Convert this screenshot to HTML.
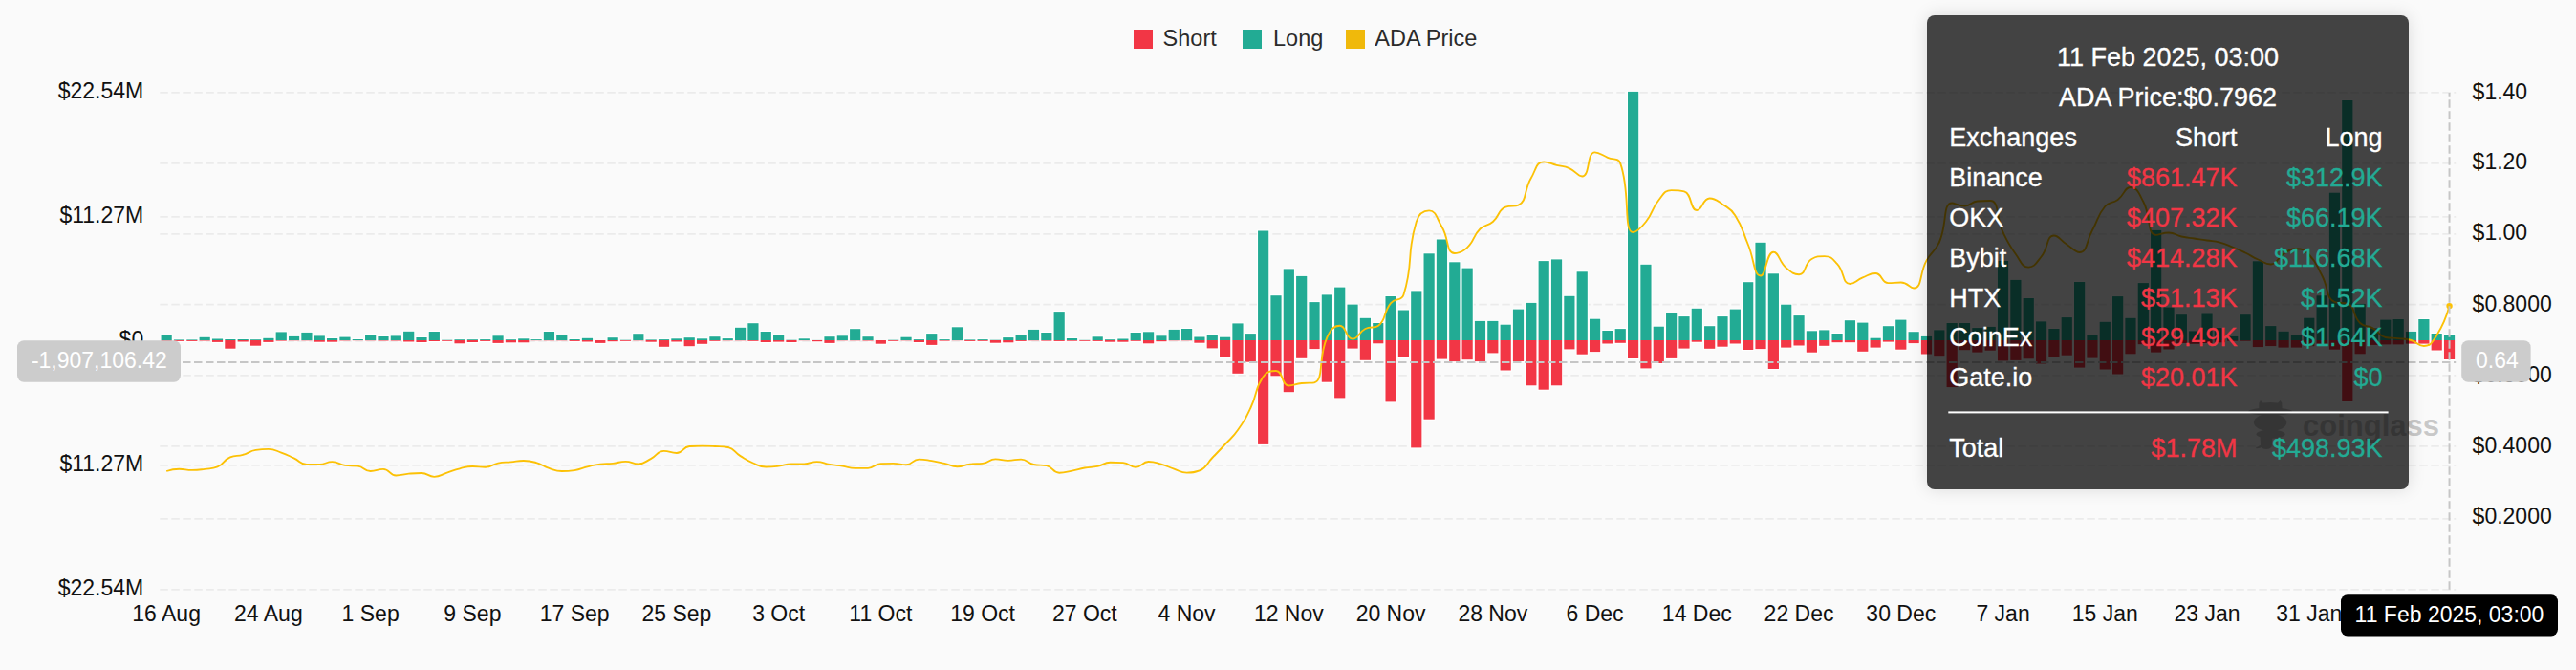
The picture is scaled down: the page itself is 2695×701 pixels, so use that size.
<!DOCTYPE html><html><head><meta charset="utf-8"><style>
html,body{margin:0;padding:0;background:#fafafa;width:2695px;height:701px;overflow:hidden;}
svg{position:absolute;left:0;top:0;}
text{font-family:"Liberation Sans", sans-serif;}
#tt{position:absolute;left:2016px;top:16px;width:504px;height:496px;border-radius:8px;background:rgba(0,0,0,0.735);box-shadow:0 0 18px rgba(0,0,0,0.13);}
</style></head><body>
<svg width="2695" height="701" viewBox="0 0 2695 701">
<g stroke="#ebebeb" stroke-width="1.8" stroke-dasharray="8.5 3.5" fill="none">
<line x1="167.30" y1="96.90" x2="2569.22" y2="96.90"/>
<line x1="167.30" y1="170.85" x2="2569.22" y2="170.85"/>
<line x1="167.30" y1="226.85" x2="2569.22" y2="226.85"/>
<line x1="167.30" y1="244.80" x2="2569.22" y2="244.80"/>
<line x1="167.30" y1="318.65" x2="2569.22" y2="318.65"/>
<line x1="167.30" y1="356.90" x2="2569.22" y2="356.90"/>
<line x1="167.30" y1="392.90" x2="2569.22" y2="392.90"/>
<line x1="167.30" y1="466.80" x2="2569.22" y2="466.80"/>
<line x1="167.30" y1="486.95" x2="2569.22" y2="486.95"/>
<line x1="167.30" y1="542.85" x2="2569.22" y2="542.85"/>
<line x1="167.30" y1="616.80" x2="2569.22" y2="616.80"/>
</g>
<g font-size="23" fill="#111" text-anchor="end">
<text x="150.2" y="103.30">$22.54M</text>
<text x="150.2" y="233.25">$11.27M</text>
<text x="150.2" y="363.30">$0</text>
<text x="150.2" y="493.35">$11.27M</text>
<text x="150.2" y="623.20">$22.54M</text>
</g>
<g font-size="23" fill="#111">
<text x="2586.6" y="103.60">$1.40</text>
<text x="2586.6" y="176.60">$1.20</text>
<text x="2586.6" y="250.50">$1.00</text>
<text x="2586.6" y="325.90">$0.8000</text>
<text x="2586.6" y="400.00">$0.6000</text>
<text x="2586.6" y="473.80">$0.4000</text>
<text x="2586.6" y="548.20">$0.2000</text>
</g>
<g font-size="23" fill="#111" text-anchor="middle">
<text x="174.15" y="650.3">16 Aug</text>
<text x="280.90" y="650.3">24 Aug</text>
<text x="387.64" y="650.3">1 Sep</text>
<text x="494.38" y="650.3">9 Sep</text>
<text x="601.13" y="650.3">17 Sep</text>
<text x="707.87" y="650.3">25 Sep</text>
<text x="814.62" y="650.3">3 Oct</text>
<text x="921.36" y="650.3">11 Oct</text>
<text x="1028.10" y="650.3">19 Oct</text>
<text x="1134.85" y="650.3">27 Oct</text>
<text x="1241.59" y="650.3">4 Nov</text>
<text x="1348.34" y="650.3">12 Nov</text>
<text x="1455.08" y="650.3">20 Nov</text>
<text x="1561.82" y="650.3">28 Nov</text>
<text x="1668.57" y="650.3">6 Dec</text>
<text x="1775.31" y="650.3">14 Dec</text>
<text x="1882.06" y="650.3">22 Dec</text>
<text x="1988.80" y="650.3">30 Dec</text>
<text x="2095.54" y="650.3">7 Jan</text>
<text x="2202.29" y="650.3">15 Jan</text>
<text x="2309.03" y="650.3">23 Jan</text>
<text x="2415.78" y="650.3">31 Jan</text>
</g>
<g fill="#ffffff">
<rect x="167.55" y="349.70" width="13.20" height="8.30"/>
<rect x="180.89" y="354.40" width="13.20" height="3.50"/>
<rect x="194.24" y="354.40" width="13.20" height="3.50"/>
<rect x="207.58" y="351.80" width="13.20" height="4.70"/>
<rect x="220.92" y="353.50" width="13.20" height="5.40"/>
<rect x="234.27" y="354.00" width="13.20" height="11.70"/>
<rect x="247.61" y="354.00" width="13.20" height="4.50"/>
<rect x="260.95" y="354.20" width="13.20" height="8.50"/>
<rect x="274.30" y="352.80" width="13.20" height="6.10"/>
<rect x="287.64" y="346.40" width="13.20" height="11.20"/>
<rect x="300.98" y="350.90" width="13.20" height="5.40"/>
<rect x="314.32" y="346.90" width="13.20" height="9.40"/>
<rect x="327.67" y="350.40" width="13.20" height="8.30"/>
<rect x="341.01" y="353.00" width="13.20" height="5.70"/>
<rect x="354.35" y="351.60" width="13.20" height="4.80"/>
<rect x="367.70" y="354.00" width="13.20" height="2.20"/>
<rect x="381.04" y="349.00" width="13.20" height="7.30"/>
<rect x="394.38" y="351.00" width="13.20" height="5.50"/>
<rect x="407.73" y="350.40" width="13.20" height="6.10"/>
<rect x="421.07" y="345.80" width="13.20" height="12.70"/>
<rect x="434.41" y="352.00" width="13.20" height="7.00"/>
<rect x="447.75" y="346.00" width="13.20" height="12.00"/>
<rect x="461.10" y="355.70" width="13.20" height="2.10"/>
<rect x="474.44" y="354.20" width="13.20" height="6.10"/>
<rect x="487.78" y="354.20" width="13.20" height="4.80"/>
<rect x="501.13" y="354.10" width="13.20" height="3.80"/>
<rect x="514.47" y="350.30" width="13.20" height="9.60"/>
<rect x="527.81" y="354.20" width="13.20" height="5.10"/>
<rect x="541.16" y="353.30" width="13.20" height="6.00"/>
<rect x="554.50" y="354.10" width="13.20" height="2.10"/>
<rect x="567.84" y="346.00" width="13.20" height="10.30"/>
<rect x="581.18" y="350.00" width="13.20" height="6.30"/>
<rect x="594.53" y="354.00" width="13.20" height="3.90"/>
<rect x="607.87" y="352.80" width="13.20" height="5.70"/>
<rect x="621.21" y="356.00" width="13.20" height="3.90"/>
<rect x="634.56" y="352.20" width="13.20" height="6.00"/>
<rect x="647.90" y="355.70" width="13.20" height="2.10"/>
<rect x="661.24" y="348.20" width="13.20" height="8.10"/>
<rect x="674.59" y="354.40" width="13.20" height="4.30"/>
<rect x="687.93" y="354.10" width="13.20" height="9.70"/>
<rect x="701.27" y="353.30" width="13.20" height="5.20"/>
<rect x="714.61" y="352.20" width="13.20" height="11.00"/>
<rect x="727.96" y="353.30" width="13.20" height="7.50"/>
<rect x="741.30" y="351.20" width="13.20" height="6.60"/>
<rect x="754.64" y="353.10" width="13.20" height="3.20"/>
<rect x="767.99" y="341.80" width="13.20" height="14.50"/>
<rect x="781.33" y="337.20" width="13.20" height="20.60"/>
<rect x="794.67" y="346.00" width="13.20" height="13.00"/>
<rect x="808.02" y="349.20" width="13.20" height="9.40"/>
<rect x="821.36" y="355.70" width="13.20" height="3.30"/>
<rect x="834.70" y="353.30" width="13.20" height="2.90"/>
<rect x="848.04" y="355.90" width="13.20" height="2.30"/>
<rect x="861.39" y="351.20" width="13.20" height="8.70"/>
<rect x="874.73" y="350.30" width="13.20" height="6.00"/>
<rect x="888.07" y="343.20" width="13.20" height="13.10"/>
<rect x="901.42" y="351.20" width="13.20" height="5.30"/>
<rect x="914.76" y="356.00" width="13.20" height="4.70"/>
<rect x="928.10" y="355.70" width="13.20" height="2.10"/>
<rect x="941.45" y="351.70" width="13.20" height="4.60"/>
<rect x="954.79" y="354.10" width="13.20" height="4.90"/>
<rect x="968.13" y="348.10" width="13.20" height="13.80"/>
<rect x="981.47" y="354.10" width="13.20" height="3.50"/>
<rect x="994.82" y="341.30" width="13.20" height="14.90"/>
<rect x="1008.16" y="354.40" width="13.20" height="3.50"/>
<rect x="1021.50" y="354.10" width="13.20" height="3.70"/>
<rect x="1034.85" y="355.70" width="13.20" height="4.00"/>
<rect x="1048.19" y="352.10" width="13.20" height="7.20"/>
<rect x="1061.53" y="350.00" width="13.20" height="7.90"/>
<rect x="1074.88" y="343.90" width="13.20" height="12.40"/>
<rect x="1088.22" y="347.00" width="13.20" height="10.60"/>
<rect x="1101.56" y="325.10" width="13.20" height="32.80"/>
<rect x="1114.90" y="353.00" width="13.20" height="4.70"/>
<rect x="1128.25" y="355.80" width="13.20" height="2.00"/>
<rect x="1141.59" y="351.30" width="13.20" height="6.60"/>
<rect x="1154.93" y="354.20" width="13.20" height="4.50"/>
<rect x="1168.28" y="353.50" width="13.20" height="5.20"/>
<rect x="1181.62" y="347.00" width="13.20" height="10.80"/>
<rect x="1194.96" y="346.30" width="13.20" height="14.00"/>
<rect x="1208.31" y="350.30" width="13.20" height="7.90"/>
<rect x="1221.65" y="343.90" width="13.20" height="12.40"/>
<rect x="1234.99" y="343.00" width="13.20" height="13.30"/>
<rect x="1248.33" y="351.50" width="13.20" height="8.20"/>
<rect x="1261.68" y="349.20" width="13.20" height="16.20"/>
<rect x="1275.02" y="351.70" width="13.20" height="23.00"/>
<rect x="1288.36" y="337.40" width="13.20" height="54.40"/>
<rect x="1301.71" y="348.10" width="13.20" height="31.60"/>
<rect x="1315.05" y="240.50" width="13.20" height="225.40"/>
<rect x="1328.39" y="308.20" width="13.20" height="86.10"/>
<rect x="1341.74" y="280.40" width="13.20" height="130.80"/>
<rect x="1355.08" y="287.90" width="13.20" height="87.90"/>
<rect x="1368.42" y="315.10" width="13.20" height="51.00"/>
<rect x="1381.76" y="307.40" width="13.20" height="93.30"/>
<rect x="1395.11" y="299.60" width="13.20" height="117.80"/>
<rect x="1408.45" y="317.60" width="13.20" height="48.00"/>
<rect x="1421.79" y="331.80" width="13.20" height="46.00"/>
<rect x="1435.14" y="337.00" width="13.20" height="23.30"/>
<rect x="1448.48" y="309.00" width="13.20" height="112.40"/>
<rect x="1461.82" y="323.50" width="13.20" height="51.40"/>
<rect x="1475.17" y="303.40" width="13.20" height="166.00"/>
<rect x="1488.51" y="264.30" width="13.20" height="175.40"/>
<rect x="1501.85" y="249.50" width="13.20" height="127.10"/>
<rect x="1515.19" y="273.30" width="13.20" height="105.80"/>
<rect x="1528.54" y="279.60" width="13.20" height="97.60"/>
<rect x="1541.88" y="334.90" width="13.20" height="44.20"/>
<rect x="1555.22" y="334.90" width="13.20" height="35.50"/>
<rect x="1568.57" y="338.70" width="13.20" height="49.80"/>
<rect x="1581.91" y="322.60" width="13.20" height="56.40"/>
<rect x="1595.25" y="315.90" width="13.20" height="88.40"/>
<rect x="1608.60" y="272.10" width="13.20" height="136.60"/>
<rect x="1621.94" y="270.40" width="13.20" height="133.90"/>
<rect x="1635.28" y="308.80" width="13.20" height="57.60"/>
<rect x="1648.62" y="283.30" width="13.20" height="88.40"/>
<rect x="1661.97" y="332.70" width="13.20" height="36.40"/>
<rect x="1675.31" y="345.00" width="13.20" height="15.50"/>
<rect x="1688.65" y="343.10" width="13.20" height="16.70"/>
<rect x="1702.00" y="94.90" width="13.20" height="281.10"/>
<rect x="1715.34" y="275.80" width="13.20" height="110.60"/>
<rect x="1728.68" y="340.70" width="13.20" height="40.30"/>
<rect x="1742.03" y="326.80" width="13.20" height="49.10"/>
<rect x="1755.37" y="330.10" width="13.20" height="35.50"/>
<rect x="1768.71" y="321.80" width="13.20" height="36.90"/>
<rect x="1782.05" y="340.20" width="13.20" height="25.60"/>
<rect x="1795.40" y="330.10" width="13.20" height="33.60"/>
<rect x="1808.74" y="322.60" width="13.20" height="37.90"/>
<rect x="1822.08" y="294.20" width="13.20" height="72.80"/>
<rect x="1835.43" y="252.80" width="13.20" height="113.30"/>
<rect x="1848.77" y="285.30" width="13.20" height="101.70"/>
<rect x="1862.11" y="317.70" width="13.20" height="46.90"/>
<rect x="1875.46" y="329.10" width="13.20" height="33.40"/>
<rect x="1888.80" y="345.30" width="13.20" height="24.40"/>
<rect x="1902.14" y="344.40" width="13.20" height="18.40"/>
<rect x="1915.48" y="348.00" width="13.20" height="11.20"/>
<rect x="1928.83" y="334.20" width="13.20" height="25.00"/>
<rect x="1942.17" y="336.60" width="13.20" height="32.20"/>
<rect x="1955.51" y="352.70" width="13.20" height="11.90"/>
<rect x="1968.86" y="340.20" width="13.20" height="18.40"/>
<rect x="1982.20" y="333.60" width="13.20" height="33.10"/>
<rect x="1995.54" y="346.20" width="13.20" height="13.90"/>
<rect x="2008.89" y="350.90" width="13.20" height="20.60"/>
<rect x="2022.23" y="344.40" width="13.20" height="28.80"/>
<rect x="2035.57" y="337.00" width="13.20" height="69.10"/>
<rect x="2048.91" y="337.00" width="13.20" height="30.20"/>
<rect x="2062.26" y="342.10" width="13.20" height="27.50"/>
<rect x="2075.60" y="340.90" width="13.20" height="26.80"/>
<rect x="2088.94" y="272.00" width="13.20" height="106.40"/>
<rect x="2102.29" y="291.90" width="13.20" height="86.00"/>
<rect x="2115.63" y="311.00" width="13.20" height="65.30"/>
<rect x="2128.97" y="335.40" width="13.20" height="46.10"/>
<rect x="2142.32" y="343.00" width="13.20" height="31.40"/>
<rect x="2155.66" y="331.10" width="13.20" height="41.60"/>
<rect x="2169.00" y="294.00" width="13.20" height="91.60"/>
<rect x="2182.34" y="349.70" width="13.20" height="25.90"/>
<rect x="2195.69" y="335.80" width="13.20" height="51.70"/>
<rect x="2209.03" y="309.10" width="13.20" height="83.40"/>
<rect x="2222.37" y="331.80" width="13.20" height="39.50"/>
<rect x="2235.72" y="295.10" width="13.20" height="66.10"/>
<rect x="2249.06" y="239.90" width="13.20" height="129.70"/>
<rect x="2262.40" y="320.60" width="13.20" height="45.90"/>
<rect x="2275.75" y="328.20" width="13.20" height="31.80"/>
<rect x="2289.09" y="345.40" width="13.20" height="15.40"/>
<rect x="2302.43" y="327.50" width="13.20" height="32.50"/>
<rect x="2315.77" y="342.10" width="13.20" height="17.20"/>
<rect x="2329.12" y="350.90" width="13.20" height="6.80"/>
<rect x="2342.46" y="328.20" width="13.20" height="29.50"/>
<rect x="2355.80" y="272.30" width="13.20" height="91.80"/>
<rect x="2369.15" y="340.10" width="13.20" height="23.00"/>
<rect x="2382.49" y="345.80" width="13.20" height="18.80"/>
<rect x="2395.83" y="350.00" width="13.20" height="14.60"/>
<rect x="2409.18" y="331.70" width="13.20" height="31.50"/>
<rect x="2422.52" y="308.30" width="13.20" height="52.30"/>
<rect x="2435.86" y="200.70" width="13.20" height="166.00"/>
<rect x="2449.20" y="104.00" width="13.20" height="317.00"/>
<rect x="2462.55" y="316.90" width="13.20" height="54.40"/>
<rect x="2475.89" y="342.40" width="13.20" height="19.50"/>
<rect x="2489.23" y="333.60" width="13.20" height="27.80"/>
<rect x="2502.58" y="333.00" width="13.20" height="28.40"/>
<rect x="2515.92" y="345.90" width="13.20" height="14.70"/>
<rect x="2529.26" y="333.00" width="13.20" height="27.60"/>
<rect x="2542.61" y="348.00" width="13.20" height="19.50"/>
<rect x="2555.95" y="349.10" width="13.20" height="27.90"/>
</g>
<g fill="#22AB94">
<rect x="168.55" y="350.70" width="11.20" height="5.30"/>
<rect x="181.89" y="355.40" width="11.20" height="0.60"/>
<rect x="195.24" y="355.40" width="11.20" height="0.60"/>
<rect x="208.58" y="352.80" width="11.20" height="3.20"/>
<rect x="221.92" y="354.50" width="11.20" height="1.50"/>
<rect x="235.27" y="355.00" width="11.20" height="1.00"/>
<rect x="248.61" y="355.00" width="11.20" height="1.00"/>
<rect x="261.95" y="355.20" width="11.20" height="0.80"/>
<rect x="275.30" y="353.80" width="11.20" height="2.20"/>
<rect x="288.64" y="347.40" width="11.20" height="8.60"/>
<rect x="301.98" y="351.90" width="11.20" height="4.10"/>
<rect x="315.32" y="347.90" width="11.20" height="8.10"/>
<rect x="328.67" y="351.40" width="11.20" height="4.60"/>
<rect x="342.01" y="354.00" width="11.20" height="2.00"/>
<rect x="355.35" y="352.60" width="11.20" height="3.40"/>
<rect x="368.70" y="355.00" width="11.20" height="1.00"/>
<rect x="382.04" y="350.00" width="11.20" height="6.00"/>
<rect x="395.38" y="352.00" width="11.20" height="4.00"/>
<rect x="408.73" y="351.40" width="11.20" height="4.60"/>
<rect x="422.07" y="346.80" width="11.20" height="9.20"/>
<rect x="435.41" y="353.00" width="11.20" height="3.00"/>
<rect x="448.75" y="347.00" width="11.20" height="9.00"/>
<rect x="462.10" y="355.70" width="11.20" height="0.30"/>
<rect x="475.44" y="355.20" width="11.20" height="0.80"/>
<rect x="488.78" y="355.20" width="11.20" height="0.80"/>
<rect x="502.13" y="355.10" width="11.20" height="0.90"/>
<rect x="515.47" y="351.30" width="11.20" height="4.70"/>
<rect x="528.81" y="355.20" width="11.20" height="0.80"/>
<rect x="542.16" y="354.30" width="11.20" height="1.70"/>
<rect x="555.50" y="355.10" width="11.20" height="0.90"/>
<rect x="568.84" y="347.00" width="11.20" height="9.00"/>
<rect x="582.18" y="351.00" width="11.20" height="5.00"/>
<rect x="595.53" y="355.00" width="11.20" height="1.00"/>
<rect x="608.87" y="353.80" width="11.20" height="2.20"/>
<rect x="635.56" y="353.20" width="11.20" height="2.80"/>
<rect x="648.90" y="355.70" width="11.20" height="0.30"/>
<rect x="662.24" y="349.20" width="11.20" height="6.80"/>
<rect x="675.59" y="355.40" width="11.20" height="0.60"/>
<rect x="688.93" y="355.10" width="11.20" height="0.90"/>
<rect x="702.27" y="354.30" width="11.20" height="1.70"/>
<rect x="715.61" y="353.20" width="11.20" height="2.80"/>
<rect x="728.96" y="354.30" width="11.20" height="1.70"/>
<rect x="742.30" y="352.20" width="11.20" height="3.80"/>
<rect x="755.64" y="354.10" width="11.20" height="1.90"/>
<rect x="768.99" y="342.80" width="11.20" height="13.20"/>
<rect x="782.33" y="338.20" width="11.20" height="17.80"/>
<rect x="795.67" y="347.00" width="11.20" height="9.00"/>
<rect x="809.02" y="350.20" width="11.20" height="5.80"/>
<rect x="822.36" y="355.70" width="11.20" height="0.30"/>
<rect x="835.70" y="354.30" width="11.20" height="1.70"/>
<rect x="849.04" y="355.90" width="11.20" height="0.10"/>
<rect x="862.39" y="352.20" width="11.20" height="3.80"/>
<rect x="875.73" y="351.30" width="11.20" height="4.70"/>
<rect x="889.07" y="344.20" width="11.20" height="11.80"/>
<rect x="902.42" y="352.20" width="11.20" height="3.80"/>
<rect x="929.10" y="355.70" width="11.20" height="0.30"/>
<rect x="942.45" y="352.70" width="11.20" height="3.30"/>
<rect x="955.79" y="355.10" width="11.20" height="0.90"/>
<rect x="969.13" y="349.10" width="11.20" height="6.90"/>
<rect x="982.47" y="355.10" width="11.20" height="0.90"/>
<rect x="995.82" y="342.30" width="11.20" height="13.70"/>
<rect x="1009.16" y="355.40" width="11.20" height="0.60"/>
<rect x="1022.50" y="355.10" width="11.20" height="0.90"/>
<rect x="1035.85" y="355.70" width="11.20" height="0.30"/>
<rect x="1049.19" y="353.10" width="11.20" height="2.90"/>
<rect x="1062.53" y="351.00" width="11.20" height="5.00"/>
<rect x="1075.88" y="344.90" width="11.20" height="11.10"/>
<rect x="1089.22" y="348.00" width="11.20" height="8.00"/>
<rect x="1102.56" y="326.10" width="11.20" height="29.90"/>
<rect x="1115.90" y="354.00" width="11.20" height="2.00"/>
<rect x="1129.25" y="355.80" width="11.20" height="0.20"/>
<rect x="1142.59" y="352.30" width="11.20" height="3.70"/>
<rect x="1155.93" y="355.20" width="11.20" height="0.80"/>
<rect x="1169.28" y="354.50" width="11.20" height="1.50"/>
<rect x="1182.62" y="348.00" width="11.20" height="8.00"/>
<rect x="1195.96" y="347.30" width="11.20" height="8.70"/>
<rect x="1209.31" y="351.30" width="11.20" height="4.70"/>
<rect x="1222.65" y="344.90" width="11.20" height="11.10"/>
<rect x="1235.99" y="344.00" width="11.20" height="12.00"/>
<rect x="1249.33" y="352.50" width="11.20" height="3.50"/>
<rect x="1262.68" y="350.20" width="11.20" height="5.80"/>
<rect x="1276.02" y="352.70" width="11.20" height="3.30"/>
<rect x="1289.36" y="338.40" width="11.20" height="17.60"/>
<rect x="1302.71" y="349.10" width="11.20" height="6.90"/>
<rect x="1316.05" y="241.50" width="11.20" height="114.50"/>
<rect x="1329.39" y="309.20" width="11.20" height="46.80"/>
<rect x="1342.74" y="281.40" width="11.20" height="74.60"/>
<rect x="1356.08" y="288.90" width="11.20" height="67.10"/>
<rect x="1369.42" y="316.10" width="11.20" height="39.90"/>
<rect x="1382.76" y="308.40" width="11.20" height="47.60"/>
<rect x="1396.11" y="300.60" width="11.20" height="55.40"/>
<rect x="1409.45" y="318.60" width="11.20" height="37.40"/>
<rect x="1422.79" y="332.80" width="11.20" height="23.20"/>
<rect x="1436.14" y="338.00" width="11.20" height="18.00"/>
<rect x="1449.48" y="310.00" width="11.20" height="46.00"/>
<rect x="1462.82" y="324.50" width="11.20" height="31.50"/>
<rect x="1476.17" y="304.40" width="11.20" height="51.60"/>
<rect x="1489.51" y="265.30" width="11.20" height="90.70"/>
<rect x="1502.85" y="250.50" width="11.20" height="105.50"/>
<rect x="1516.19" y="274.30" width="11.20" height="81.70"/>
<rect x="1529.54" y="280.60" width="11.20" height="75.40"/>
<rect x="1542.88" y="335.90" width="11.20" height="20.10"/>
<rect x="1556.22" y="335.90" width="11.20" height="20.10"/>
<rect x="1569.57" y="339.70" width="11.20" height="16.30"/>
<rect x="1582.91" y="323.60" width="11.20" height="32.40"/>
<rect x="1596.25" y="316.90" width="11.20" height="39.10"/>
<rect x="1609.60" y="273.10" width="11.20" height="82.90"/>
<rect x="1622.94" y="271.40" width="11.20" height="84.60"/>
<rect x="1636.28" y="309.80" width="11.20" height="46.20"/>
<rect x="1649.62" y="284.30" width="11.20" height="71.70"/>
<rect x="1662.97" y="333.70" width="11.20" height="22.30"/>
<rect x="1676.31" y="346.00" width="11.20" height="10.00"/>
<rect x="1689.65" y="344.10" width="11.20" height="11.90"/>
<rect x="1703.00" y="95.90" width="11.20" height="260.10"/>
<rect x="1716.34" y="276.80" width="11.20" height="79.20"/>
<rect x="1729.68" y="341.70" width="11.20" height="14.30"/>
<rect x="1743.03" y="327.80" width="11.20" height="28.20"/>
<rect x="1756.37" y="331.10" width="11.20" height="24.90"/>
<rect x="1769.71" y="322.80" width="11.20" height="33.20"/>
<rect x="1783.05" y="341.20" width="11.20" height="14.80"/>
<rect x="1796.40" y="331.10" width="11.20" height="24.90"/>
<rect x="1809.74" y="323.60" width="11.20" height="32.40"/>
<rect x="1823.08" y="295.20" width="11.20" height="60.80"/>
<rect x="1836.43" y="253.80" width="11.20" height="102.20"/>
<rect x="1849.77" y="286.30" width="11.20" height="69.70"/>
<rect x="1863.11" y="318.70" width="11.20" height="37.30"/>
<rect x="1876.46" y="330.10" width="11.20" height="25.90"/>
<rect x="1889.80" y="346.30" width="11.20" height="9.70"/>
<rect x="1903.14" y="345.40" width="11.20" height="10.60"/>
<rect x="1916.48" y="349.00" width="11.20" height="7.00"/>
<rect x="1929.83" y="335.20" width="11.20" height="20.80"/>
<rect x="1943.17" y="337.60" width="11.20" height="18.40"/>
<rect x="1956.51" y="353.70" width="11.20" height="2.30"/>
<rect x="1969.86" y="341.20" width="11.20" height="14.80"/>
<rect x="1983.20" y="334.60" width="11.20" height="21.40"/>
<rect x="1996.54" y="347.20" width="11.20" height="8.80"/>
<rect x="2009.89" y="351.90" width="11.20" height="4.10"/>
<rect x="2023.23" y="345.40" width="11.20" height="10.60"/>
<rect x="2036.57" y="338.00" width="11.20" height="18.00"/>
<rect x="2049.91" y="338.00" width="11.20" height="18.00"/>
<rect x="2063.26" y="343.10" width="11.20" height="12.90"/>
<rect x="2076.60" y="341.90" width="11.20" height="14.10"/>
<rect x="2089.94" y="273.00" width="11.20" height="83.00"/>
<rect x="2103.29" y="292.90" width="11.20" height="63.10"/>
<rect x="2116.63" y="312.00" width="11.20" height="44.00"/>
<rect x="2129.97" y="336.40" width="11.20" height="19.60"/>
<rect x="2143.32" y="344.00" width="11.20" height="12.00"/>
<rect x="2156.66" y="332.10" width="11.20" height="23.90"/>
<rect x="2170.00" y="295.00" width="11.20" height="61.00"/>
<rect x="2183.34" y="350.70" width="11.20" height="5.30"/>
<rect x="2196.69" y="336.80" width="11.20" height="19.20"/>
<rect x="2210.03" y="310.10" width="11.20" height="45.90"/>
<rect x="2223.37" y="332.80" width="11.20" height="23.20"/>
<rect x="2236.72" y="296.10" width="11.20" height="59.90"/>
<rect x="2250.06" y="240.90" width="11.20" height="115.10"/>
<rect x="2263.40" y="321.60" width="11.20" height="34.40"/>
<rect x="2276.75" y="329.20" width="11.20" height="26.80"/>
<rect x="2290.09" y="346.40" width="11.20" height="9.60"/>
<rect x="2303.43" y="328.50" width="11.20" height="27.50"/>
<rect x="2316.77" y="343.10" width="11.20" height="12.90"/>
<rect x="2330.12" y="351.90" width="11.20" height="4.10"/>
<rect x="2343.46" y="329.20" width="11.20" height="26.80"/>
<rect x="2356.80" y="273.30" width="11.20" height="82.70"/>
<rect x="2370.15" y="341.10" width="11.20" height="14.90"/>
<rect x="2383.49" y="346.80" width="11.20" height="9.20"/>
<rect x="2396.83" y="351.00" width="11.20" height="5.00"/>
<rect x="2410.18" y="332.70" width="11.20" height="23.30"/>
<rect x="2423.52" y="309.30" width="11.20" height="46.70"/>
<rect x="2436.86" y="201.70" width="11.20" height="154.30"/>
<rect x="2450.20" y="105.00" width="11.20" height="251.00"/>
<rect x="2463.55" y="317.90" width="11.20" height="38.10"/>
<rect x="2476.89" y="343.40" width="11.20" height="12.60"/>
<rect x="2490.23" y="334.60" width="11.20" height="21.40"/>
<rect x="2503.58" y="334.00" width="11.20" height="22.00"/>
<rect x="2516.92" y="346.90" width="11.20" height="9.10"/>
<rect x="2530.26" y="334.00" width="11.20" height="22.00"/>
<rect x="2543.61" y="349.00" width="11.20" height="7.00"/>
<rect x="2556.95" y="350.10" width="11.20" height="5.90"/>
</g>
<g fill="#F23645">
<rect x="168.55" y="356.00" width="11.20" height="1.00"/>
<rect x="181.89" y="356.00" width="11.20" height="0.90"/>
<rect x="195.24" y="356.00" width="11.20" height="0.90"/>
<rect x="208.58" y="356.00" width="11.20" height="0.50"/>
<rect x="221.92" y="356.00" width="11.20" height="1.90"/>
<rect x="235.27" y="356.00" width="11.20" height="8.70"/>
<rect x="248.61" y="356.00" width="11.20" height="1.50"/>
<rect x="261.95" y="356.00" width="11.20" height="5.70"/>
<rect x="275.30" y="356.00" width="11.20" height="1.90"/>
<rect x="288.64" y="356.00" width="11.20" height="0.60"/>
<rect x="301.98" y="356.00" width="11.20" height="0.30"/>
<rect x="315.32" y="356.00" width="11.20" height="0.30"/>
<rect x="328.67" y="356.00" width="11.20" height="1.70"/>
<rect x="342.01" y="356.00" width="11.20" height="1.70"/>
<rect x="355.35" y="356.00" width="11.20" height="0.40"/>
<rect x="368.70" y="356.00" width="11.20" height="0.20"/>
<rect x="382.04" y="356.00" width="11.20" height="0.30"/>
<rect x="395.38" y="356.00" width="11.20" height="0.50"/>
<rect x="408.73" y="356.00" width="11.20" height="0.50"/>
<rect x="422.07" y="356.00" width="11.20" height="1.50"/>
<rect x="435.41" y="356.00" width="11.20" height="2.00"/>
<rect x="448.75" y="356.00" width="11.20" height="1.00"/>
<rect x="462.10" y="356.00" width="11.20" height="0.80"/>
<rect x="475.44" y="356.00" width="11.20" height="3.30"/>
<rect x="488.78" y="356.00" width="11.20" height="2.00"/>
<rect x="502.13" y="356.00" width="11.20" height="0.90"/>
<rect x="515.47" y="356.00" width="11.20" height="2.90"/>
<rect x="528.81" y="356.00" width="11.20" height="2.30"/>
<rect x="542.16" y="356.00" width="11.20" height="2.30"/>
<rect x="555.50" y="356.00" width="11.20" height="0.20"/>
<rect x="568.84" y="356.00" width="11.20" height="0.30"/>
<rect x="582.18" y="356.00" width="11.20" height="0.30"/>
<rect x="595.53" y="356.00" width="11.20" height="0.90"/>
<rect x="608.87" y="356.00" width="11.20" height="1.50"/>
<rect x="622.21" y="356.00" width="11.20" height="2.90"/>
<rect x="635.56" y="356.00" width="11.20" height="1.20"/>
<rect x="648.90" y="356.00" width="11.20" height="0.80"/>
<rect x="662.24" y="356.00" width="11.20" height="0.30"/>
<rect x="675.59" y="356.00" width="11.20" height="1.70"/>
<rect x="688.93" y="356.00" width="11.20" height="6.80"/>
<rect x="702.27" y="356.00" width="11.20" height="1.50"/>
<rect x="715.61" y="356.00" width="11.20" height="6.20"/>
<rect x="728.96" y="356.00" width="11.20" height="3.80"/>
<rect x="742.30" y="356.00" width="11.20" height="0.80"/>
<rect x="755.64" y="356.00" width="11.20" height="0.30"/>
<rect x="768.99" y="356.00" width="11.20" height="0.30"/>
<rect x="782.33" y="356.00" width="11.20" height="0.80"/>
<rect x="795.67" y="356.00" width="11.20" height="2.00"/>
<rect x="809.02" y="356.00" width="11.20" height="1.60"/>
<rect x="822.36" y="356.00" width="11.20" height="2.00"/>
<rect x="835.70" y="356.00" width="11.20" height="0.20"/>
<rect x="849.04" y="356.00" width="11.20" height="1.20"/>
<rect x="862.39" y="356.00" width="11.20" height="2.90"/>
<rect x="875.73" y="356.00" width="11.20" height="0.30"/>
<rect x="889.07" y="356.00" width="11.20" height="0.30"/>
<rect x="902.42" y="356.00" width="11.20" height="0.50"/>
<rect x="915.76" y="356.00" width="11.20" height="3.70"/>
<rect x="929.10" y="356.00" width="11.20" height="0.80"/>
<rect x="942.45" y="356.00" width="11.20" height="0.30"/>
<rect x="955.79" y="356.00" width="11.20" height="2.00"/>
<rect x="969.13" y="356.00" width="11.20" height="4.90"/>
<rect x="982.47" y="356.00" width="11.20" height="0.60"/>
<rect x="995.82" y="356.00" width="11.20" height="0.20"/>
<rect x="1009.16" y="356.00" width="11.20" height="0.90"/>
<rect x="1022.50" y="356.00" width="11.20" height="0.80"/>
<rect x="1035.85" y="356.00" width="11.20" height="2.70"/>
<rect x="1049.19" y="356.00" width="11.20" height="2.30"/>
<rect x="1062.53" y="356.00" width="11.20" height="0.90"/>
<rect x="1075.88" y="356.00" width="11.20" height="0.30"/>
<rect x="1089.22" y="356.00" width="11.20" height="0.60"/>
<rect x="1102.56" y="356.00" width="11.20" height="0.90"/>
<rect x="1115.90" y="356.00" width="11.20" height="0.70"/>
<rect x="1129.25" y="356.00" width="11.20" height="0.80"/>
<rect x="1142.59" y="356.00" width="11.20" height="0.90"/>
<rect x="1155.93" y="356.00" width="11.20" height="1.70"/>
<rect x="1169.28" y="356.00" width="11.20" height="1.70"/>
<rect x="1182.62" y="356.00" width="11.20" height="0.80"/>
<rect x="1195.96" y="356.00" width="11.20" height="3.30"/>
<rect x="1209.31" y="356.00" width="11.20" height="1.20"/>
<rect x="1222.65" y="356.00" width="11.20" height="0.30"/>
<rect x="1235.99" y="356.00" width="11.20" height="0.30"/>
<rect x="1249.33" y="356.00" width="11.20" height="2.70"/>
<rect x="1262.68" y="356.00" width="11.20" height="8.40"/>
<rect x="1276.02" y="356.00" width="11.20" height="17.70"/>
<rect x="1289.36" y="356.00" width="11.20" height="34.80"/>
<rect x="1302.71" y="356.00" width="11.20" height="22.70"/>
<rect x="1316.05" y="356.00" width="11.20" height="108.90"/>
<rect x="1329.39" y="356.00" width="11.20" height="37.30"/>
<rect x="1342.74" y="356.00" width="11.20" height="54.20"/>
<rect x="1356.08" y="356.00" width="11.20" height="18.80"/>
<rect x="1369.42" y="356.00" width="11.20" height="9.10"/>
<rect x="1382.76" y="356.00" width="11.20" height="43.70"/>
<rect x="1396.11" y="356.00" width="11.20" height="60.40"/>
<rect x="1409.45" y="356.00" width="11.20" height="8.60"/>
<rect x="1422.79" y="356.00" width="11.20" height="20.80"/>
<rect x="1436.14" y="356.00" width="11.20" height="3.30"/>
<rect x="1449.48" y="356.00" width="11.20" height="64.40"/>
<rect x="1462.82" y="356.00" width="11.20" height="17.90"/>
<rect x="1476.17" y="356.00" width="11.20" height="112.40"/>
<rect x="1489.51" y="356.00" width="11.20" height="82.70"/>
<rect x="1502.85" y="356.00" width="11.20" height="19.60"/>
<rect x="1516.19" y="356.00" width="11.20" height="22.10"/>
<rect x="1529.54" y="356.00" width="11.20" height="20.20"/>
<rect x="1542.88" y="356.00" width="11.20" height="22.10"/>
<rect x="1556.22" y="356.00" width="11.20" height="13.40"/>
<rect x="1569.57" y="356.00" width="11.20" height="31.50"/>
<rect x="1582.91" y="356.00" width="11.20" height="22.00"/>
<rect x="1596.25" y="356.00" width="11.20" height="47.30"/>
<rect x="1609.60" y="356.00" width="11.20" height="51.70"/>
<rect x="1622.94" y="356.00" width="11.20" height="47.30"/>
<rect x="1636.28" y="356.00" width="11.20" height="9.40"/>
<rect x="1649.62" y="356.00" width="11.20" height="14.70"/>
<rect x="1662.97" y="356.00" width="11.20" height="12.10"/>
<rect x="1676.31" y="356.00" width="11.20" height="3.50"/>
<rect x="1689.65" y="356.00" width="11.20" height="2.80"/>
<rect x="1703.00" y="356.00" width="11.20" height="19.00"/>
<rect x="1716.34" y="356.00" width="11.20" height="29.40"/>
<rect x="1729.68" y="356.00" width="11.20" height="24.00"/>
<rect x="1743.03" y="356.00" width="11.20" height="18.90"/>
<rect x="1756.37" y="356.00" width="11.20" height="8.60"/>
<rect x="1769.71" y="356.00" width="11.20" height="1.70"/>
<rect x="1783.05" y="356.00" width="11.20" height="8.80"/>
<rect x="1796.40" y="356.00" width="11.20" height="6.70"/>
<rect x="1809.74" y="356.00" width="11.20" height="3.50"/>
<rect x="1823.08" y="356.00" width="11.20" height="10.00"/>
<rect x="1836.43" y="356.00" width="11.20" height="9.10"/>
<rect x="1849.77" y="356.00" width="11.20" height="30.00"/>
<rect x="1863.11" y="356.00" width="11.20" height="7.60"/>
<rect x="1876.46" y="356.00" width="11.20" height="5.50"/>
<rect x="1889.80" y="356.00" width="11.20" height="12.70"/>
<rect x="1903.14" y="356.00" width="11.20" height="5.80"/>
<rect x="1916.48" y="356.00" width="11.20" height="2.20"/>
<rect x="1929.83" y="356.00" width="11.20" height="2.20"/>
<rect x="1943.17" y="356.00" width="11.20" height="11.80"/>
<rect x="1956.51" y="356.00" width="11.20" height="7.60"/>
<rect x="1969.86" y="356.00" width="11.20" height="1.60"/>
<rect x="1983.20" y="356.00" width="11.20" height="9.70"/>
<rect x="1996.54" y="356.00" width="11.20" height="3.10"/>
<rect x="2009.89" y="356.00" width="11.20" height="14.50"/>
<rect x="2023.23" y="356.00" width="11.20" height="16.20"/>
<rect x="2036.57" y="356.00" width="11.20" height="49.10"/>
<rect x="2049.91" y="356.00" width="11.20" height="10.20"/>
<rect x="2063.26" y="356.00" width="11.20" height="12.60"/>
<rect x="2076.60" y="356.00" width="11.20" height="10.70"/>
<rect x="2089.94" y="356.00" width="11.20" height="21.40"/>
<rect x="2103.29" y="356.00" width="11.20" height="20.90"/>
<rect x="2116.63" y="356.00" width="11.20" height="19.30"/>
<rect x="2129.97" y="356.00" width="11.20" height="24.50"/>
<rect x="2143.32" y="356.00" width="11.20" height="17.40"/>
<rect x="2156.66" y="356.00" width="11.20" height="15.70"/>
<rect x="2170.00" y="356.00" width="11.20" height="28.60"/>
<rect x="2183.34" y="356.00" width="11.20" height="18.60"/>
<rect x="2196.69" y="356.00" width="11.20" height="30.50"/>
<rect x="2210.03" y="356.00" width="11.20" height="35.50"/>
<rect x="2223.37" y="356.00" width="11.20" height="14.30"/>
<rect x="2236.72" y="356.00" width="11.20" height="4.20"/>
<rect x="2250.06" y="356.00" width="11.20" height="12.60"/>
<rect x="2263.40" y="356.00" width="11.20" height="9.50"/>
<rect x="2276.75" y="356.00" width="11.20" height="3.00"/>
<rect x="2290.09" y="356.00" width="11.20" height="3.80"/>
<rect x="2303.43" y="356.00" width="11.20" height="3.00"/>
<rect x="2316.77" y="356.00" width="11.20" height="2.30"/>
<rect x="2330.12" y="356.00" width="11.20" height="0.70"/>
<rect x="2343.46" y="356.00" width="11.20" height="0.70"/>
<rect x="2356.80" y="356.00" width="11.20" height="7.10"/>
<rect x="2370.15" y="356.00" width="11.20" height="6.10"/>
<rect x="2383.49" y="356.00" width="11.20" height="7.60"/>
<rect x="2396.83" y="356.00" width="11.20" height="7.60"/>
<rect x="2410.18" y="356.00" width="11.20" height="6.20"/>
<rect x="2423.52" y="356.00" width="11.20" height="3.60"/>
<rect x="2436.86" y="356.00" width="11.20" height="9.70"/>
<rect x="2450.20" y="356.00" width="11.20" height="64.00"/>
<rect x="2463.55" y="356.00" width="11.20" height="14.30"/>
<rect x="2476.89" y="356.00" width="11.20" height="4.90"/>
<rect x="2490.23" y="356.00" width="11.20" height="4.40"/>
<rect x="2503.58" y="356.00" width="11.20" height="4.40"/>
<rect x="2516.92" y="356.00" width="11.20" height="3.60"/>
<rect x="2530.26" y="356.00" width="11.20" height="3.60"/>
<rect x="2543.61" y="356.00" width="11.20" height="10.50"/>
<rect x="2556.95" y="356.00" width="11.20" height="20.00"/>
</g>
<path d="M174.15 493.00C174.15 493.00 180.79 490.70 187.49 490.70C194.13 490.70 194.16 491.90 200.84 491.90C207.51 491.90 207.55 491.67 214.18 490.80C220.89 489.92 221.55 490.80 227.52 488.40C234.89 485.44 233.50 481.26 240.87 478.30C246.84 475.90 247.70 477.70 254.21 475.90C261.05 474.00 260.67 471.96 267.55 470.90C274.01 469.90 274.34 469.90 280.90 469.90C287.68 469.90 287.73 471.28 294.24 473.60C301.08 476.03 300.98 476.36 307.58 479.40C314.32 482.51 313.90 485.90 320.92 485.90C327.24 485.90 327.67 485.90 334.27 485.90C341.01 485.90 340.99 483.10 347.61 483.10C354.33 483.10 354.16 485.97 360.95 486.80C367.51 487.60 367.87 486.80 374.30 487.60C381.21 488.46 380.76 493.00 387.64 493.00C394.10 493.00 394.64 490.80 400.98 490.80C407.98 490.80 407.31 497.50 414.33 497.50C420.65 497.50 420.97 496.33 427.67 495.70C434.31 495.08 434.47 495.00 441.01 495.00C447.81 495.00 447.71 498.80 454.35 498.80C461.05 498.80 461.03 496.72 467.70 494.60C474.38 492.47 474.25 491.98 481.04 490.30C487.60 488.68 487.67 488.00 494.38 488.00C501.01 488.00 501.20 488.70 507.73 488.70C514.54 488.70 514.26 485.95 521.07 484.60C527.61 483.30 527.74 483.95 534.41 483.30C541.08 482.65 541.11 482.00 547.76 482.00C554.45 482.00 554.67 482.20 561.10 484.10C568.02 486.15 567.57 487.61 574.44 489.90C580.91 492.06 581.03 493.00 587.78 493.00C594.38 493.00 594.57 493.00 601.13 492.10C607.91 491.17 607.75 490.04 614.47 488.40C621.09 486.79 621.07 486.31 627.81 485.60C634.42 484.90 634.52 485.60 641.16 484.90C647.86 484.20 647.84 482.80 654.50 482.80C661.19 482.80 661.38 485.30 667.84 485.30C674.72 485.30 674.75 483.03 681.19 479.80C688.10 476.33 687.40 471.90 694.53 471.90C700.74 471.90 701.56 474.00 707.87 474.00C714.91 474.00 714.14 467.45 721.21 467.00C727.48 466.60 727.89 466.60 734.56 466.60C741.23 466.60 741.24 466.65 747.90 467.00C754.58 467.35 755.20 467.00 761.24 468.00C768.54 469.21 767.73 472.86 774.59 477.10C781.07 481.11 780.95 481.52 787.93 484.50C794.30 487.22 794.47 488.50 801.27 488.50C807.81 488.50 807.99 488.40 814.62 487.60C821.33 486.80 821.24 485.30 827.96 485.30C834.58 485.30 834.68 485.40 841.30 485.40C848.02 485.40 848.00 483.10 854.64 483.10C861.34 483.10 861.27 484.77 867.99 485.90C874.61 487.02 874.68 486.63 881.33 487.60C888.02 488.58 887.96 489.80 894.67 489.80C901.30 489.80 901.54 489.80 908.02 489.80C914.88 489.80 914.49 485.31 921.36 485.10C927.84 484.90 928.05 484.90 934.70 484.90C941.39 484.90 941.63 486.20 948.05 486.20C954.97 486.20 954.47 480.60 961.39 480.60C967.81 480.60 968.10 481.13 974.73 482.20C981.45 483.28 981.44 483.41 988.07 484.90C994.78 486.41 994.71 488.20 1001.42 488.20C1008.05 488.20 1008.03 486.31 1014.76 485.60C1021.37 484.90 1021.61 485.60 1028.10 484.90C1034.95 484.16 1034.61 480.40 1041.45 480.40C1047.96 480.40 1048.11 481.80 1054.79 481.80C1061.46 481.80 1061.70 480.60 1068.13 480.60C1075.04 480.60 1074.56 484.71 1081.48 486.00C1087.91 487.20 1088.59 486.00 1094.82 487.20C1101.93 488.57 1101.07 494.70 1108.16 494.70C1114.42 494.70 1114.88 493.89 1121.50 492.60C1128.22 491.29 1128.11 490.69 1134.85 489.50C1141.46 488.34 1141.65 489.32 1148.19 487.90C1155.00 486.42 1154.71 483.70 1161.53 483.70C1168.05 483.70 1168.40 483.70 1174.88 484.10C1181.74 484.52 1181.64 488.80 1188.22 488.80C1194.98 488.80 1194.67 483.00 1201.56 483.00C1208.01 483.00 1208.38 483.84 1214.91 485.70C1221.72 487.64 1221.51 488.35 1228.25 490.60C1234.85 492.80 1234.82 494.60 1241.59 494.60C1248.16 494.60 1249.37 494.60 1254.93 492.40C1262.71 489.32 1261.68 485.77 1268.28 479.00C1275.02 472.07 1275.07 472.11 1281.62 465.00C1288.42 457.61 1289.22 458.17 1294.96 450.00C1302.57 439.17 1302.60 438.97 1308.31 427.00C1315.94 410.97 1312.19 407.82 1321.65 394.00C1325.54 388.32 1329.43 388.00 1334.99 388.00C1342.77 388.00 1340.32 403.50 1348.34 403.50C1353.66 403.50 1354.95 401.71 1361.68 401.00C1368.30 400.30 1372.17 401.00 1375.02 400.30C1385.51 397.73 1378.62 374.76 1388.36 353.00C1391.96 344.96 1395.24 340.70 1401.71 340.70C1408.58 340.70 1407.97 354.60 1415.05 354.60C1421.31 354.60 1420.99 347.74 1428.39 344.00C1434.33 341.00 1437.29 344.00 1441.74 341.00C1450.63 335.00 1446.63 327.39 1455.08 317.10C1459.98 311.14 1466.16 315.72 1468.42 308.50C1479.50 273.12 1470.89 267.81 1481.77 231.90C1484.23 223.76 1489.10 220.40 1495.11 220.40C1502.45 220.40 1502.96 228.12 1508.45 237.30C1516.30 250.42 1512.77 265.00 1521.79 265.00C1526.11 265.00 1530.00 263.71 1535.14 258.80C1543.34 250.96 1540.41 247.61 1548.48 239.50C1553.75 234.21 1556.10 236.91 1561.82 232.00C1569.44 225.46 1567.14 219.47 1575.17 216.60C1580.48 214.70 1584.50 216.60 1588.51 214.70C1597.84 210.28 1593.95 199.74 1601.85 186.30C1607.29 177.04 1607.05 169.30 1615.20 169.30C1620.39 169.30 1621.86 171.10 1628.54 172.80C1635.20 174.50 1635.67 173.38 1641.88 176.10C1649.01 179.23 1650.46 184.50 1655.22 184.50C1663.81 184.50 1659.71 159.40 1668.57 159.40C1673.05 159.40 1675.32 161.91 1681.91 164.80C1688.66 167.76 1693.01 164.80 1695.25 171.10C1706.36 202.32 1697.81 243.00 1708.60 243.00C1711.15 243.00 1716.63 238.67 1721.94 232.00C1729.97 221.92 1727.18 219.49 1735.28 209.50C1740.52 203.04 1741.18 199.10 1748.63 199.10C1754.52 199.10 1757.16 199.10 1761.97 200.30C1770.51 202.43 1767.77 220.00 1775.31 220.00C1781.11 220.00 1781.26 207.50 1788.65 207.50C1794.60 207.50 1795.95 209.64 1802.00 213.70C1809.29 218.59 1810.67 218.08 1815.34 225.40C1824.01 238.98 1822.27 240.34 1828.68 255.50C1835.62 271.89 1834.58 288.50 1842.03 288.50C1847.92 288.50 1847.76 263.70 1855.37 263.70C1861.10 263.70 1860.91 273.33 1868.71 280.20C1874.25 285.08 1876.48 287.20 1882.06 287.20C1889.82 287.20 1887.31 275.46 1895.40 271.00C1900.66 268.10 1902.50 268.10 1908.74 268.10C1915.85 268.10 1916.94 270.53 1922.08 276.10C1930.28 284.98 1927.09 297.00 1935.43 297.00C1940.43 297.00 1941.91 293.23 1948.77 290.40C1955.25 287.73 1956.02 286.00 1962.11 286.00C1969.37 286.00 1968.04 296.10 1975.46 296.10C1981.38 296.10 1982.43 295.50 1988.80 295.50C1995.77 295.50 1997.94 301.50 2002.14 301.50C2011.28 301.50 2007.78 286.46 2015.49 272.60C2021.12 262.46 2024.15 264.04 2028.83 253.50C2037.49 233.99 2032.04 212.50 2042.17 212.50C2045.38 212.50 2048.98 215.50 2055.51 215.50C2062.32 215.50 2061.97 211.03 2068.86 210.50C2075.31 210.00 2078.56 210.00 2082.20 210.00C2091.90 210.00 2087.91 226.97 2095.54 243.00C2101.25 254.97 2101.11 255.34 2108.89 266.00C2114.46 273.64 2115.25 279.60 2122.23 279.60C2128.59 279.60 2130.20 275.17 2135.57 268.50C2143.54 258.62 2140.73 246.50 2148.92 246.50C2154.07 246.50 2155.48 251.26 2162.26 255.70C2168.83 260.01 2170.65 264.00 2175.60 264.00C2183.99 264.00 2182.49 252.62 2188.94 241.00C2195.83 228.62 2193.58 226.45 2202.29 216.00C2206.92 210.45 2209.66 213.47 2215.63 209.00C2223.01 203.47 2222.55 196.00 2228.97 196.00C2235.89 196.00 2237.65 202.28 2242.32 211.00C2250.99 227.18 2245.87 245.80 2255.66 245.80C2259.22 245.80 2262.43 243.50 2269.00 243.50C2275.77 243.50 2275.57 245.98 2282.35 247.50C2288.91 248.98 2289.02 248.50 2295.69 249.50C2302.36 250.50 2302.37 250.45 2309.03 251.50C2315.71 252.55 2315.86 251.99 2322.37 253.70C2329.20 255.49 2329.15 255.84 2335.72 258.50C2342.49 261.24 2342.49 261.30 2349.06 264.50C2355.83 267.80 2355.55 268.42 2362.40 271.50C2368.89 274.42 2369.72 276.50 2375.75 276.50C2383.06 276.50 2381.80 269.95 2389.09 265.50C2395.14 261.80 2395.85 260.20 2402.43 260.20C2409.20 260.20 2410.86 261.38 2415.78 266.50C2424.20 275.28 2423.12 276.88 2429.12 288.00C2436.47 301.63 2433.15 312.08 2442.46 316.00C2446.50 317.70 2451.05 316.00 2455.80 317.70C2464.39 320.77 2460.77 329.93 2469.15 338.00C2474.11 342.78 2476.26 339.90 2482.49 343.40C2489.60 347.40 2488.48 351.65 2495.83 353.00C2501.82 354.10 2502.53 353.35 2509.18 354.10C2515.87 354.85 2516.12 354.11 2522.52 356.00C2529.46 358.06 2529.75 362.00 2535.86 362.00C2543.09 362.00 2544.68 358.11 2549.21 351.00C2558.02 337.16 2562.55 320.10 2562.55 320.10" fill="none" stroke="#FCC105" stroke-width="1.85" stroke-linejoin="round"/>
<circle cx="2562.55" cy="320.10" r="3.2" fill="#FCC105"/>
<g fill="#c8c8c8">
<text x="2409" y="455.7" font-size="31" font-weight="bold">coinglass</text>
<path d="M2363.2 428 L2363.4 421.5 L2365 418.9 L2367.6 421.6 Q2375.3 420.2 2383.2 421.6 L2385.6 418.9 L2387.3 421.5 L2387.6 428 Z"/>
<ellipse cx="2375.1" cy="430.6" rx="23" ry="4.2"/>
<ellipse cx="2375.1" cy="442" rx="17.2" ry="9.2"/>
<ellipse cx="2375.6" cy="454.2" rx="15" ry="4.6"/>
<path d="M2364.5 456 L2377.5 456 L2377 466 Q2376 470 2371 470 Q2366 470 2365 466 Z"/>
<path d="M2366 465 Q2362 468 2360 468 L2360.6 469.2 Q2364 469.5 2367 467.5 Z"/>
</g>
<g stroke="#c6c6c6" stroke-width="2" stroke-dasharray="8.5 3.5" fill="none">
<line x1="167.00" y1="378.9" x2="2569.22" y2="378.9"/>
<line x1="2562.55" y1="616.70" x2="2562.55" y2="96.90"/>
</g>
<rect x="1186" y="31" width="20" height="20" fill="#F23645"/>
<rect x="1300" y="31" width="20" height="20" fill="#22AB94"/>
<rect x="1408" y="31" width="20" height="20" fill="#F0B90B"/>
<g font-size="23.5" fill="#2b2b2b">
<text x="1216.6" y="47.7">Short</text>
<text x="1332" y="47.7">Long</text>
<text x="1438.3" y="47.7">ADA Price</text>
</g>
<rect x="18" y="356.2" width="171" height="43.6" rx="7" fill="#cccccc"/>
<text x="32.9" y="384.9" font-size="23" fill="#fff">-1,907,106.42</text>
<rect x="2575.2" y="356.2" width="72.4" height="43.5" rx="7" fill="#cccccc"/>
<text x="2590" y="384.5" font-size="23" fill="#fff">0.64</text>
<rect x="2449" y="622.2" width="227" height="43.4" rx="7" fill="#000"/>
<text x="2562.5" y="651.3" font-size="23" fill="#fff" text-anchor="middle">11 Feb 2025, 03:00</text>
</svg>
<div id="tt"></div>
<svg width="2695" height="701" viewBox="0 0 2695 701">
<g font-size="27" fill="#fff" stroke-width="0.3">
<g stroke="#fff">
<text x="2268" y="69.1" text-anchor="middle">11 Feb 2025, 03:00</text>
<text x="2268" y="111.3" text-anchor="middle">ADA Price:$0.7962</text>
<text x="2039.3" y="153">Exchanges</text>
<text x="2340.6" y="153" text-anchor="end">Short</text>
<text x="2492.5" y="153" text-anchor="end">Long</text>
</g>
<text x="2039.3" y="194.70" stroke="#fff">Binance</text>
<text x="2340.6" y="194.70" text-anchor="end" fill="#F23645" stroke="#F23645">$861.47K</text>
<text x="2492.5" y="194.70" text-anchor="end" fill="#22AB94" stroke="#22AB94">$312.9K</text>
<text x="2039.3" y="236.64" stroke="#fff">OKX</text>
<text x="2340.6" y="236.64" text-anchor="end" fill="#F23645" stroke="#F23645">$407.32K</text>
<text x="2492.5" y="236.64" text-anchor="end" fill="#22AB94" stroke="#22AB94">$66.19K</text>
<text x="2039.3" y="278.58" stroke="#fff">Bybit</text>
<text x="2340.6" y="278.58" text-anchor="end" fill="#F23645" stroke="#F23645">$414.28K</text>
<text x="2492.5" y="278.58" text-anchor="end" fill="#22AB94" stroke="#22AB94">$116.68K</text>
<text x="2039.3" y="320.52" stroke="#fff">HTX</text>
<text x="2340.6" y="320.52" text-anchor="end" fill="#F23645" stroke="#F23645">$51.13K</text>
<text x="2492.5" y="320.52" text-anchor="end" fill="#22AB94" stroke="#22AB94">$1.52K</text>
<text x="2039.3" y="362.46" stroke="#fff">CoinEx</text>
<text x="2340.6" y="362.46" text-anchor="end" fill="#F23645" stroke="#F23645">$29.49K</text>
<text x="2492.5" y="362.46" text-anchor="end" fill="#22AB94" stroke="#22AB94">$1.64K</text>
<text x="2039.3" y="404.40" stroke="#fff">Gate.io</text>
<text x="2340.6" y="404.40" text-anchor="end" fill="#F23645" stroke="#F23645">$20.01K</text>
<text x="2492.5" y="404.40" text-anchor="end" fill="#22AB94" stroke="#22AB94">$0</text>
<text x="2039.3" y="477.7" stroke="#fff">Total</text>
<text x="2340.6" y="477.7" text-anchor="end" fill="#F23645" stroke="#F23645">$1.78M</text>
<text x="2492.5" y="477.7" text-anchor="end" fill="#22AB94" stroke="#22AB94">$498.93K</text>
</g>
<rect x="2038.3" y="430.4" width="460.3" height="2" fill="#fff"/>
</svg>
</body></html>
